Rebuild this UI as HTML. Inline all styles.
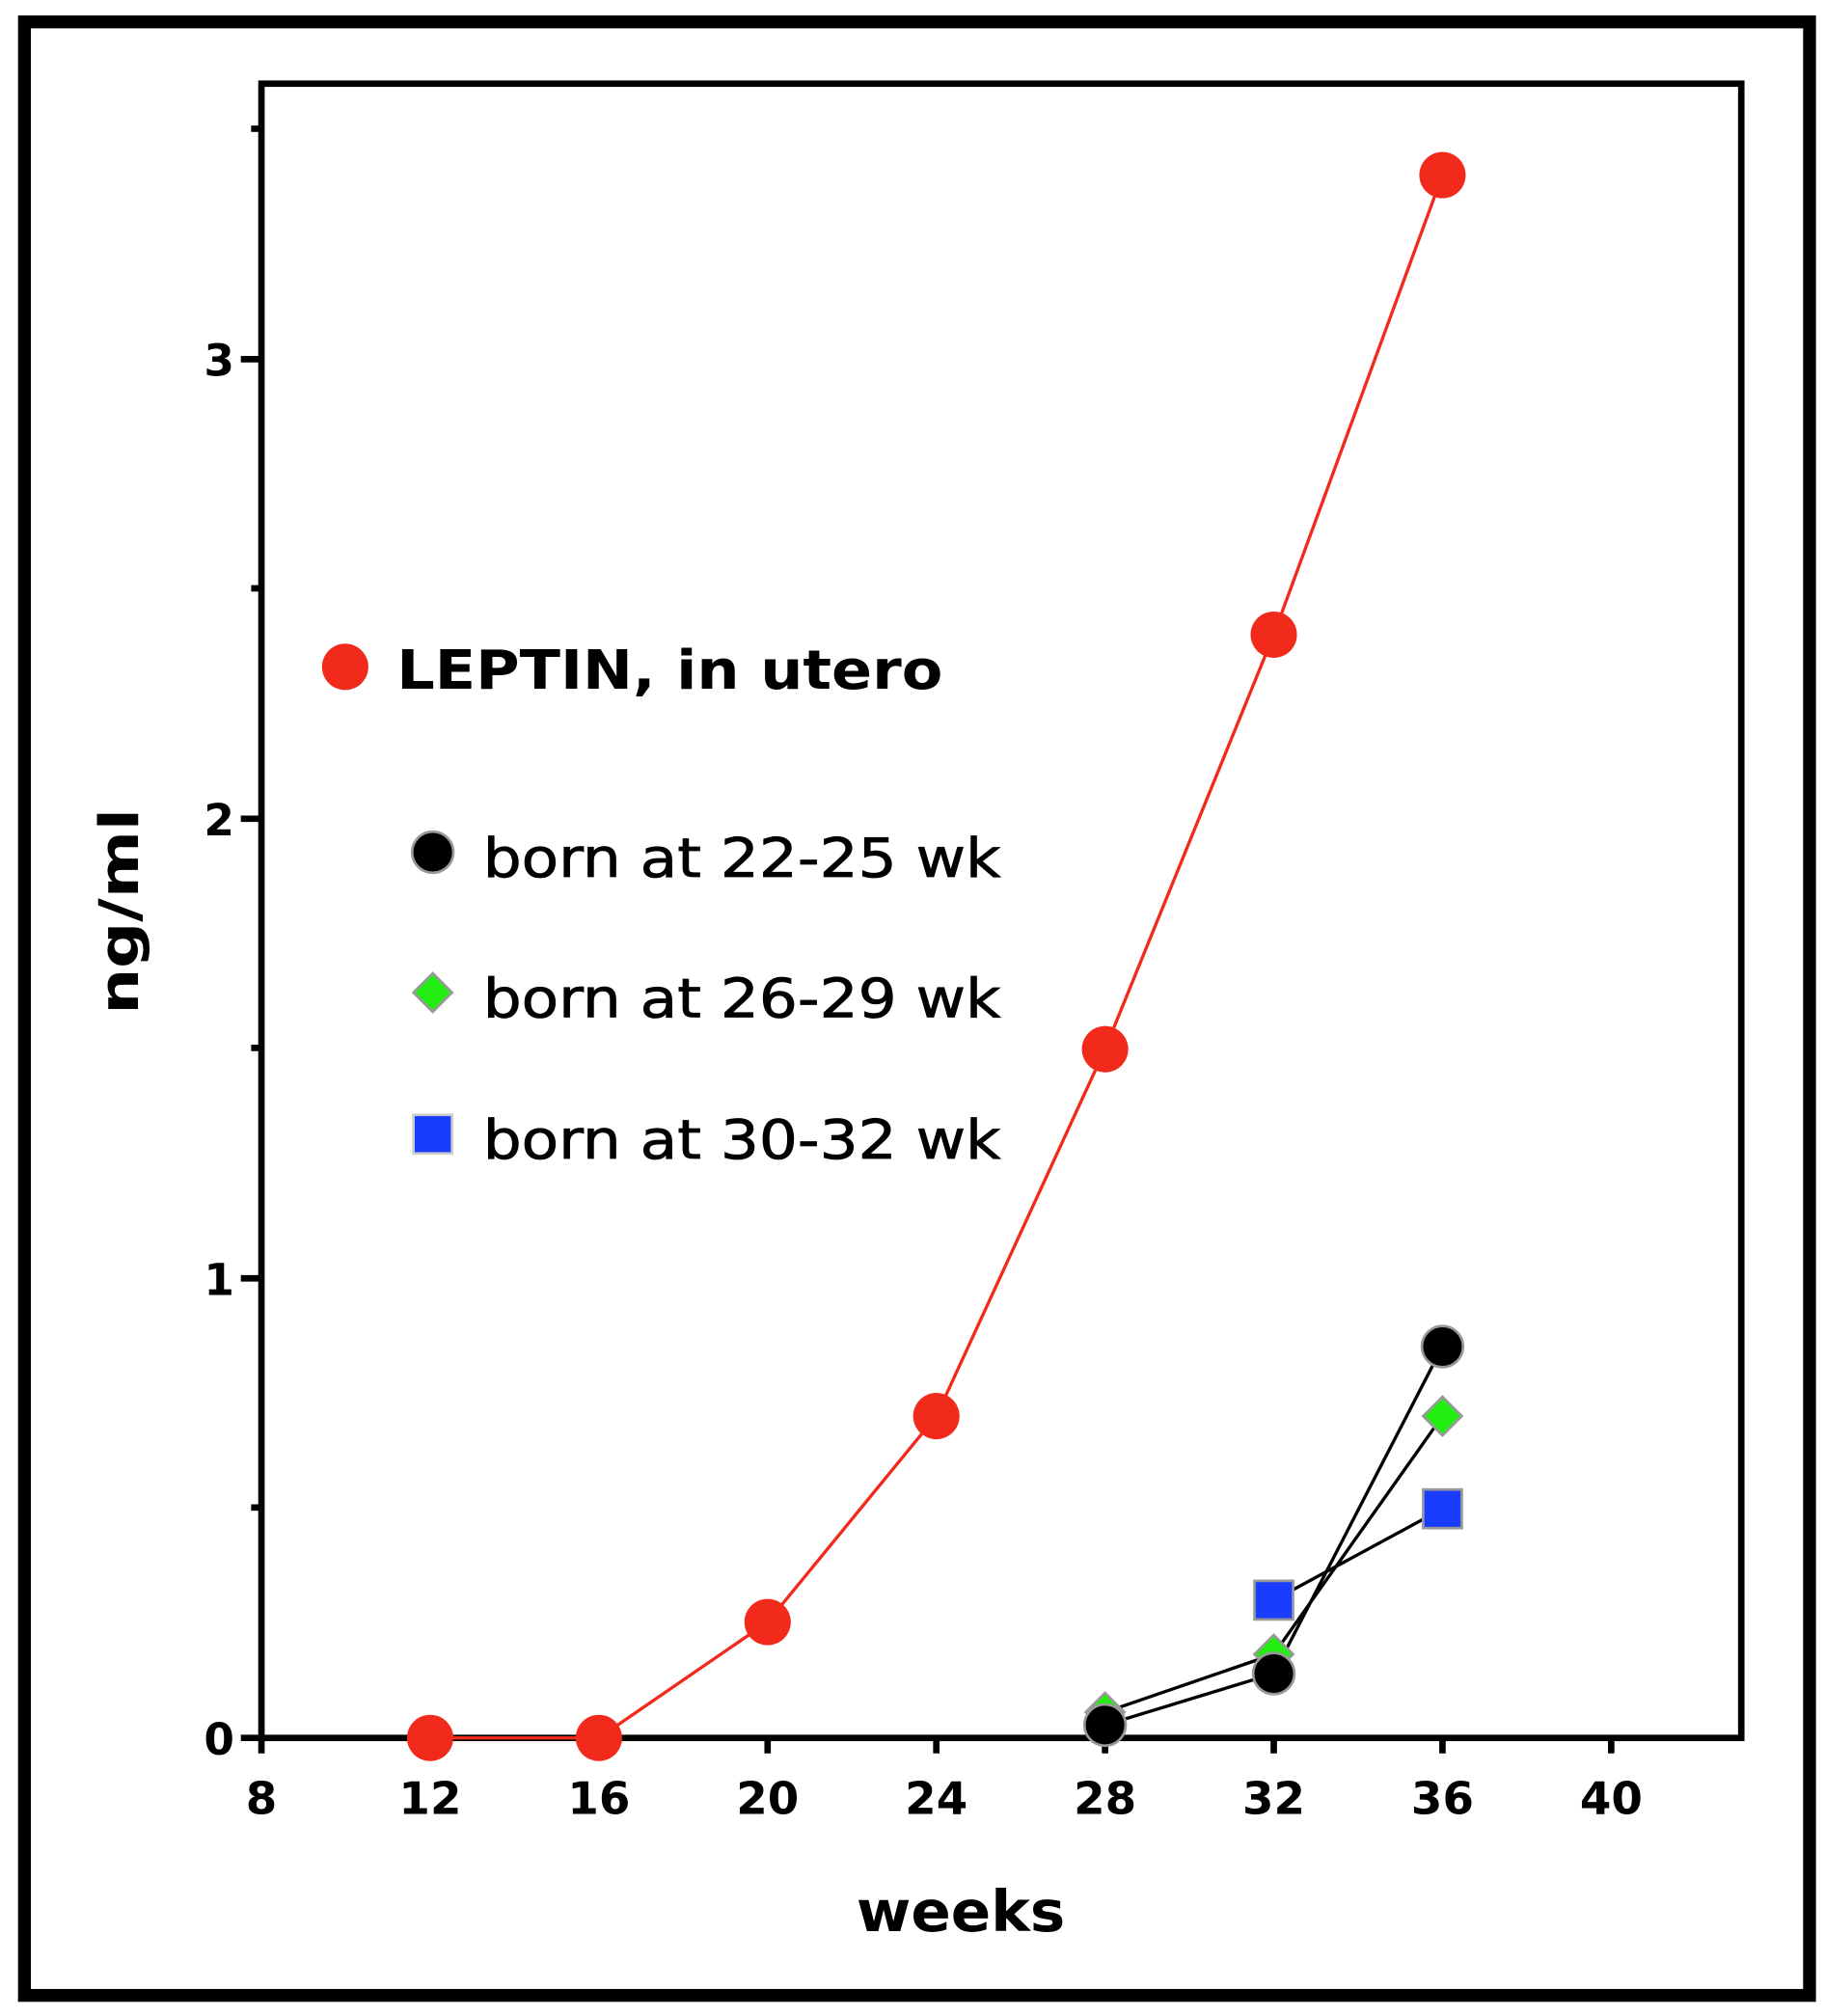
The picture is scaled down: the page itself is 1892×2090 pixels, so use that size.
<!DOCTYPE html>
<html><head><meta charset="utf-8"><style>html,body{margin:0;padding:0;background:#fff}svg{display:block}</style></head>
<body>
<svg width="1892" height="2090" viewBox="0 0 1417 1566" preserveAspectRatio="none" xmlns="http://www.w3.org/2000/svg" font-family="'DejaVu Sans','Liberation Sans',sans-serif">
<rect x="0" y="0" width="1417" height="1566" fill="#fff"/>
<rect x="19" y="17" width="1386" height="1533" fill="none" stroke="#000" stroke-width="10"/>
<rect x="203" y="65" width="1149" height="1285" fill="none" stroke="#000" stroke-width="5"/>
<g stroke="#000" stroke-width="5">
<line x1="187" y1="1350" x2="203" y2="1350"/><line x1="187" y1="993" x2="203" y2="993"/><line x1="187" y1="636" x2="203" y2="636"/><line x1="187" y1="279" x2="203" y2="279"/>
<line x1="195" y1="1171" x2="203" y2="1171"/><line x1="195" y1="814" x2="203" y2="814"/><line x1="195" y1="457" x2="203" y2="457"/><line x1="195" y1="100" x2="203" y2="100"/>
<line x1="203" y1="1350" x2="203" y2="1362"/><line x1="334" y1="1350" x2="334" y2="1362"/><line x1="465" y1="1350" x2="465" y2="1362"/><line x1="596" y1="1350" x2="596" y2="1362"/><line x1="727" y1="1350" x2="727" y2="1362"/><line x1="858" y1="1350" x2="858" y2="1362"/><line x1="989" y1="1350" x2="989" y2="1362"/><line x1="1120" y1="1350" x2="1120" y2="1362"/><line x1="1251" y1="1350" x2="1251" y2="1362"/>
</g>
<g font-weight="bold" font-size="34" text-anchor="end" fill="#000">
<text x="182" y="1363">0</text><text x="182" y="1006">1</text><text x="182" y="649">2</text><text x="182" y="292">3</text>
</g>
<g font-weight="bold" font-size="35" text-anchor="middle" fill="#000">
<text x="203" y="1409">8</text><text x="334" y="1409">12</text><text x="465" y="1409">16</text><text x="596" y="1409">20</text><text x="727" y="1409">24</text><text x="858" y="1409">28</text><text x="989" y="1409">32</text><text x="1120" y="1409">36</text><text x="1251" y="1409">40</text>
</g>
<text x="746" y="1500" font-weight="bold" font-size="44" text-anchor="middle" textLength="162" lengthAdjust="spacingAndGlyphs">weeks</text>
<text transform="translate(107,708) rotate(-90)" font-weight="bold" font-size="42" text-anchor="middle" textLength="160" lengthAdjust="spacingAndGlyphs">ng/ml</text>
<polyline points="334,1350 465,1350 596,1260 727,1100 858,815 989,493 1120,136" fill="none" stroke="#f22a1c" stroke-width="2.5"/>
<g fill="#f22a1c">
<circle cx="334" cy="1350" r="18"/><circle cx="465" cy="1350" r="18"/><circle cx="596" cy="1260" r="18"/><circle cx="727" cy="1100" r="18"/><circle cx="858" cy="815" r="18"/><circle cx="989" cy="493" r="18"/><circle cx="1120" cy="136" r="18"/>
</g>
<g fill="none" stroke="#000" stroke-width="2.5">
<polyline points="858,1340 989,1300 1120,1046"/>
<polyline points="858,1330 989,1285 1120,1100"/>
<polyline points="989,1243 1120,1172"/>
</g>
<g stroke="#999" stroke-width="2">
<rect x="974" y="1228" width="30" height="30" fill="#1a3cff"/>
<rect x="1105" y="1157" width="30" height="30" fill="#1a3cff"/>
<polygon points="858,1315 873,1330 858,1345 843,1330" fill="#22ee11"/>
<polygon points="989,1270 1004,1285 989,1300 974,1285" fill="#22ee11"/>
<polygon points="1120,1085 1135,1100 1120,1115 1105,1100" fill="#22ee11"/>
<circle cx="858" cy="1340" r="16" fill="#000"/>
<circle cx="989" cy="1300" r="16" fill="#000"/>
<circle cx="1120" cy="1046" r="16" fill="#000"/>
</g>
<circle cx="268" cy="518" r="18" fill="#f22a1c"/>
<text x="308" y="535" font-weight="bold" font-size="42" textLength="424" lengthAdjust="spacingAndGlyphs">LEPTIN, in utero</text>
<circle cx="336" cy="662" r="16" fill="#000" stroke="#999" stroke-width="2"/>
<text x="375" y="681" font-size="42" stroke="#000" stroke-width="0.6" textLength="402" lengthAdjust="spacingAndGlyphs">born at 22-25 wk</text>
<polygon points="336,756 351,771 336,786 321,771" fill="#22ee11" stroke="#999" stroke-width="2"/>
<text x="375" y="790" font-size="42" stroke="#000" stroke-width="0.6" textLength="402" lengthAdjust="spacingAndGlyphs">born at 26-29 wk</text>
<rect x="321" y="866" width="30" height="30" fill="#1a3cff" stroke="#ccc" stroke-width="2"/>
<text x="375" y="900" font-size="42" stroke="#000" stroke-width="0.6" textLength="402" lengthAdjust="spacingAndGlyphs">born at 30-32 wk</text>
</svg>
</body></html>
